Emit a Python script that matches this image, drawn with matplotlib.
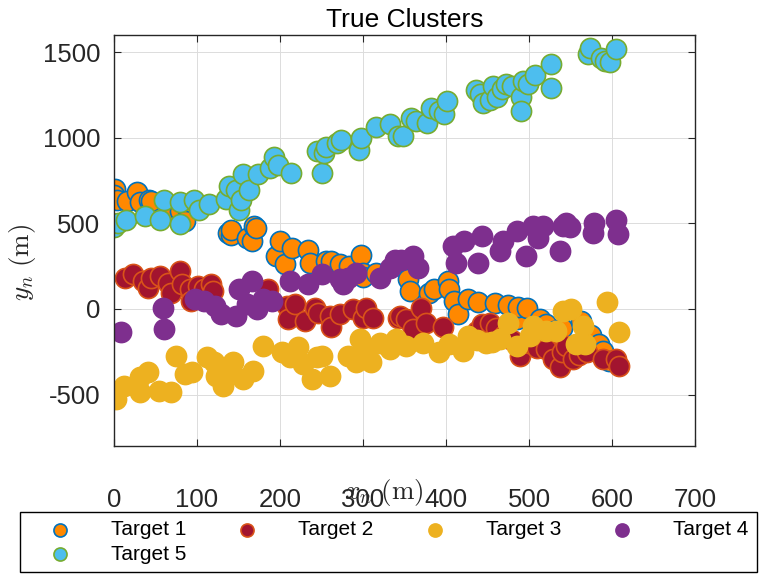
import matplotlib
matplotlib.use("Agg")
import matplotlib.pyplot as plt

plt.rcParams['font.family'] = ['Liberation Sans', 'DejaVu Sans']
plt.rcParams['mathtext.fontset'] = 'cm'

title = "True Clusters"
labels = ["Target 1", "Target 2", "Target 3", "Target 4", "Target 5"]
xticks = [0, 100, 200, 300, 400, 500, 600, 700]
yticks = [-500, 0, 500, 1000, 1500]

t1_x = [1, 0, 4, 16, 28, 31, 42, 45, 67, 79, 86, 137, 141, 141, 160, 166, 169, 171, 195, 200, 206, 215,
        234, 236, 256, 262, 272, 283, 298, 300, 300, 316, 336, 354, 357, 380, 386, 402, 404, 410, 415,
        427, 439, 459, 475, 485, 487, 497, 513, 517, 520, 530, 540, 563, 575, 584, 589, 596]
t1_y = [700, 667, 634, 628, 686, 624, 638, 630, 580, 570, 512, 444, 434, 463, 415, 395, 487, 473, 308, 395, 260, 357,
        347, 270, 279, 279, 260, 250, 318, 212, 184, 212, 250, 177, 105, 95, 115, 163, 115, 47, -31,
        60, 41, 33, 22, -60, 14, 8, -56, -99, -90, -130, -110, -70, -150, -205, -244, -302]

t2_x = [13, 23, 35, 41, 45, 55, 65, 69, 79, 82, 92, 93, 101, 109, 117, 119, 186, 208, 210, 218, 230, 242,
        246, 260, 262, 272, 288, 300, 304, 312, 342, 344, 352, 360, 370, 376, 396, 437, 443, 453, 460,
        470, 480, 489, 500, 510, 520, 521, 529, 537, 540, 545, 553, 560, 570, 589, 605, 609]
t2_y = [183, 202, 163, 124, 183, 192, 153, 95, 221, 144, 115, 47, 134, 115, 144, 105, 115, 17, -60, 27, -70, 8,
        -21, -41, -108, -31, -2, -50, 8, -50, -50, -41, -60, -118, 8, -79, -108, -128, -89, -79, -110,
        -150, -180, -273, -200, -230, -170, -234, -292, -341, -250, -215, -292, -270, -250, -292, -292, -331]

t3_x = [3, 12, 31, 41, 31, 54, 69, 75, 85, 94, 112, 121, 123, 131, 137, 143, 155, 167, 179, 202, 212, 222,
        228, 238, 244, 250, 260, 282, 292, 296, 304, 310, 320, 332, 340, 352, 372, 392, 404, 420, 427,
        437, 448, 455, 465, 475, 485, 501, 505, 521, 533, 541, 551, 557, 565, 567, 594, 608]
t3_y = [-525, -448, -399, -370, -486, -477, -486, -273, -380, -370, -283, -312, -390, -448, -370, -312, -409, -360,
        -215, -254, -283, -224, -322, -409, -283, -273, -390, -273, -312, -176, -254, -312, -196, -234, -176,
        -215, -196, -254, -205, -244, -157, -180, -196, -190, -176, -79, -215, -157, -99, -128, -128, -12, -2,
        -205, -99, -205, 41, -132]

t4_x = [8, 59, 60, 97, 108, 122, 129, 147, 151, 160, 166, 172, 180, 190, 212, 234, 250, 272, 276, 282, 292,
        320, 332, 338, 346, 360, 366, 408, 412, 422, 438, 443, 465, 469, 485, 496, 505, 511, 517, 537,
        541, 545, 549, 577, 578, 605, 607]
t4_y = [-137, 8, -118, 56, 47, 17, -31, -41, 115, 27, 163, -2, 56, 47, 163, 144, 202, 173, 144, 183, 212,
        183, 241, 289, 289, 308, 241, 366, 270, 395, 270, 428, 337, 395, 453, 312, 483, 415, 483, 337,
        483, 500, 479, 444, 502, 521, 440]

t5_x = [0, 5, 14, 37, 55, 60, 79, 80, 96, 102, 114, 135, 138, 147, 151, 153, 155, 163, 173, 188, 193, 197,
        213, 244, 250, 253, 256, 269, 274, 295, 298, 316, 333, 342, 348, 358, 364, 377, 382, 392, 398,
        401, 436, 441, 444, 453, 457, 461, 467, 472, 480, 490, 490, 493, 499, 507, 526, 527, 571, 573,
        587, 591, 597, 605]
t5_y = [480, 505, 517, 541, 517, 634, 624, 496, 638, 580, 615, 642, 721, 696, 580, 638, 789, 696, 789, 826,
        890, 841, 797, 924, 797, 909, 948, 967, 987, 929, 997, 1060, 1080, 1010, 1010, 1118, 1099, 1084,
        1171, 1155, 1138, 1215, 1281, 1258, 1200, 1223, 1301, 1238, 1287, 1316, 1301, 1238, 1157, 1331,
        1312, 1365, 1432, 1293, 1487, 1525, 1467, 1448, 1442, 1516]

series = [(t1_x, t1_y), (t2_x, t2_y), (t3_x, t3_y), (t4_x, t4_y), (t5_x, t5_y)]
faces = ['#FF8800', '#A2142F', '#EDB120', '#7E2F8E', '#4DBEEE']
edges = ['#0072BD', '#D95319', '#EDB120', '#7E2F8E', '#77AC30']

fig = plt.figure(figsize=(7.68, 5.76), dpi=100)
ax = fig.add_axes([114/768, 1 - 446/576, (695 - 114)/768, (446 - 35)/576])

handles = []
for (xs, ys), fc, ec, lab in zip(series, faces, edges, labels):
    h = ax.scatter(xs, ys, s=210, facecolor=fc, edgecolor=ec, linewidth=1.2, label=lab)
    handles.append(h)

ax.set_xlim(0, 700)
ax.set_ylim(-800, 1600)
ax.set_xticks(xticks)
ax.set_yticks(yticks)
ax.set_yticklabels(['-500', '0', '500', '1000', '1500'])
ax.grid(True, color='#dcdcdc', linewidth=0.7)
ax.set_axisbelow(True)
ax.tick_params(direction='in', length=5, width=0.8, top=True, right=True, labelsize=18.5, colors='#262626')
ax.tick_params(axis='x', pad=30)
ax.tick_params(axis='y', pad=10)
for sp in ax.spines.values():
    sp.set_color('#262626')
    sp.set_linewidth(1.0)

ax.set_title(title, fontsize=19, pad=6, color='black')

fig.text(384/768, 1 - 492/576, r'$x_n\ (\mathrm{m})$', ha='center', va='center', fontsize=19.5, color='#262626')
fig.text(22/768, 1 - 262/576, r'$y_n\ (\mathrm{m})$', ha='center', va='center', rotation=90, fontsize=19.5, color='#262626')

order = [0, 4, 1, 2, 3]
leg = fig.legend([handles[i] for i in order], [labels[i] for i in order], ncol=4,
                 loc='lower left', bbox_to_anchor=(20/768, 4/576, 737/768, 63/576),
                 bbox_transform=fig.transFigure, mode='expand', borderaxespad=0,
                 fontsize=15, fancybox=False, edgecolor='black', framealpha=1,
                 handlelength=3, handletextpad=0.95, borderpad=0.4, labelspacing=0.25,
                 markerscale=0.65, columnspacing=1.0)
leg.get_frame().set_linewidth(1.0)

fig.savefig('out.png', dpi=100)
